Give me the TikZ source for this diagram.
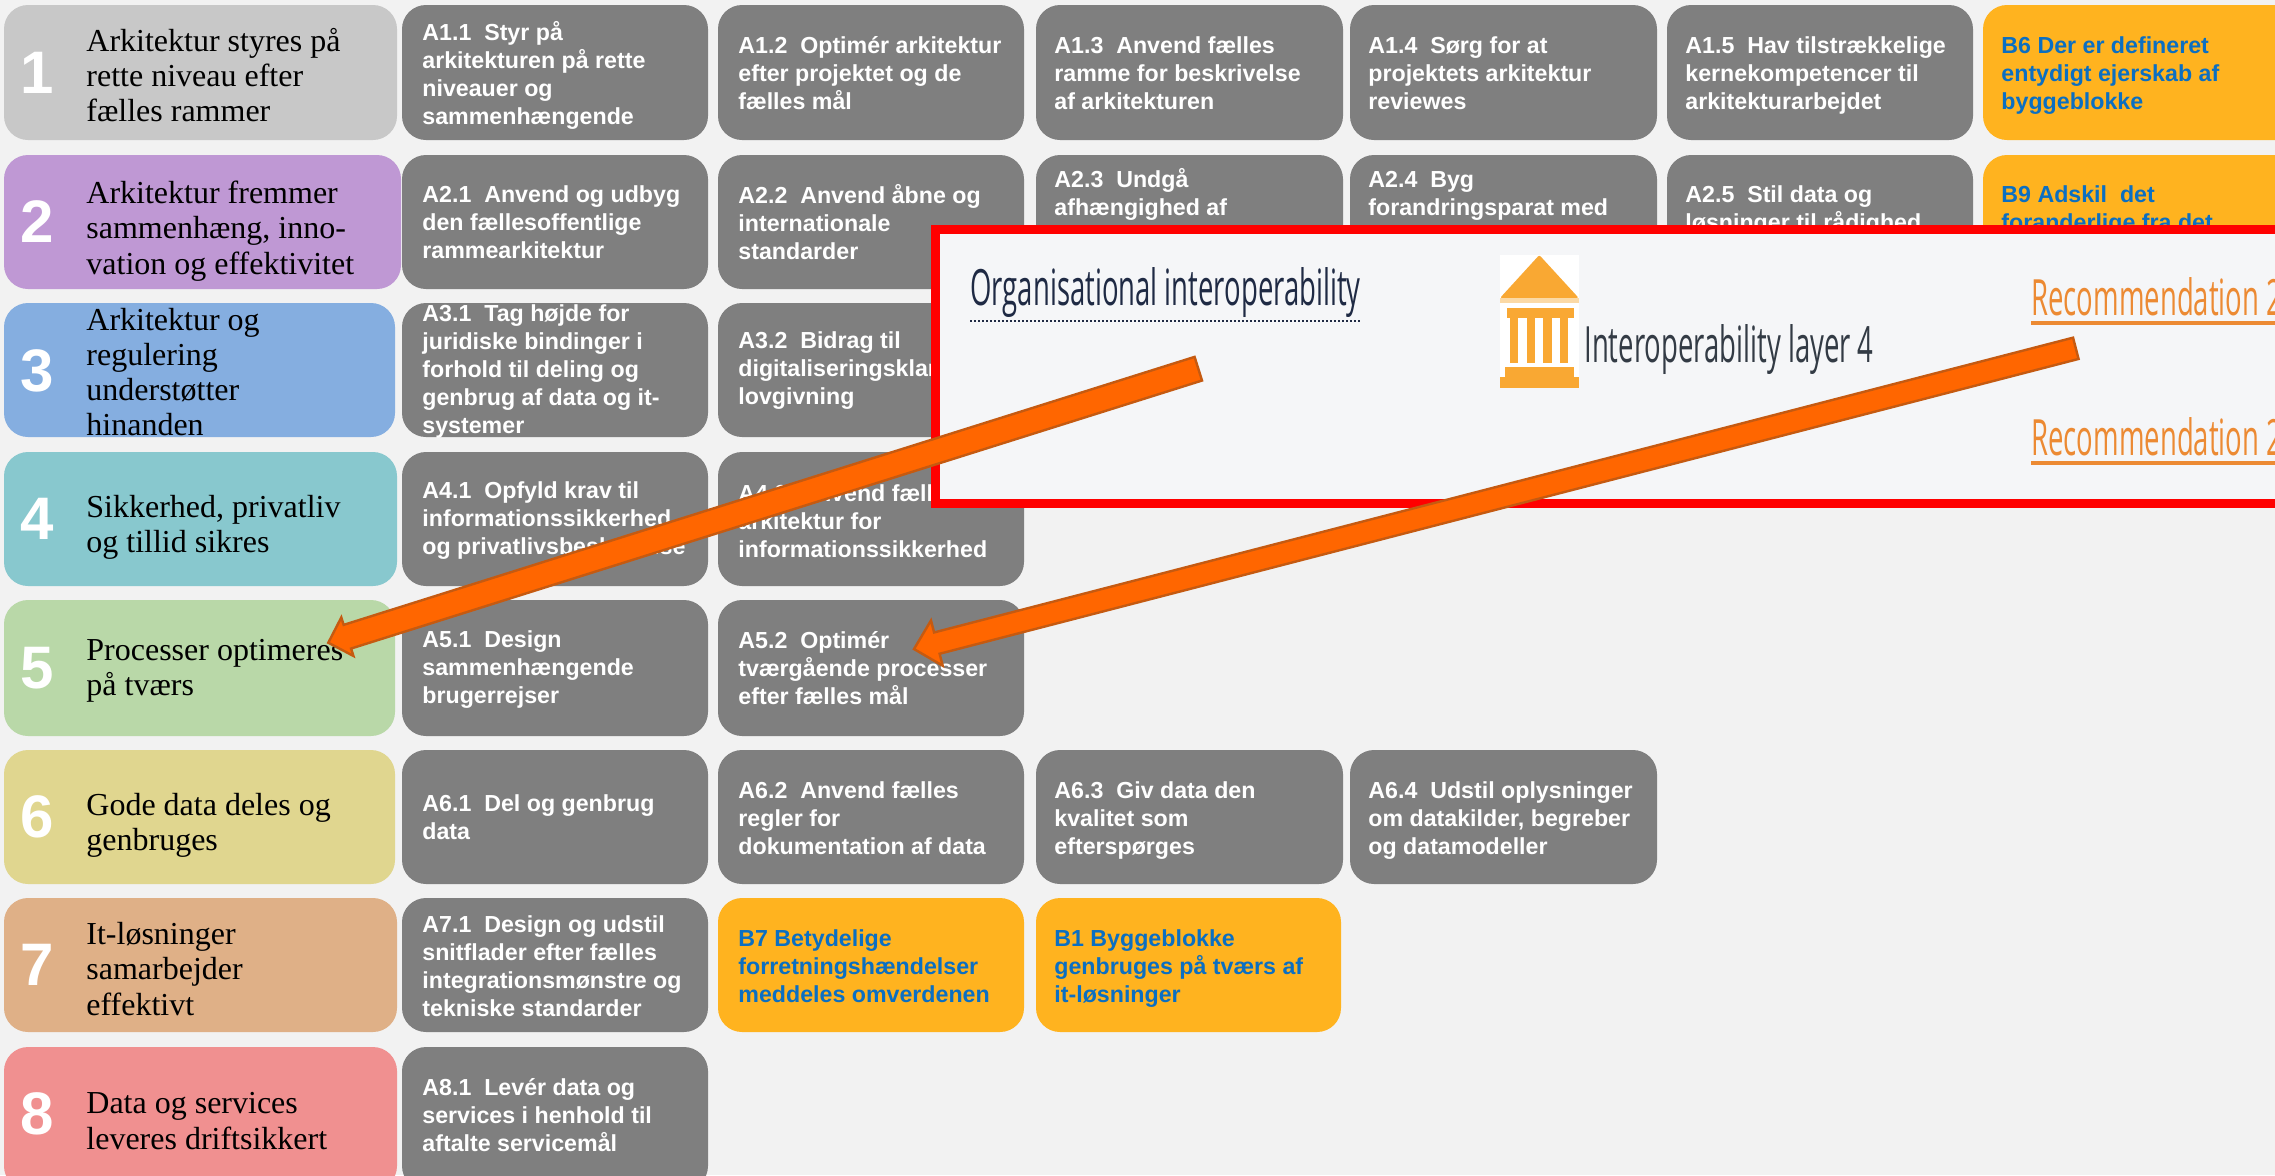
\documentclass[tikz,border=0pt]{standalone}
\usepackage{fontspec}
\usepackage{graphicx}
\usetikzlibrary{calc}
\setmainfont{Liberation Serif}
\setsansfont{Liberation Sans}
\newfontfamily\opensans{Open Sans}
\definecolor{bgc}{HTML}{F2F2F2}
\definecolor{grayc}{HTML}{7F7F7F}
\definecolor{yelc}{HTML}{FFB31F}
\definecolor{bluec}{HTML}{0B6FC2}
\definecolor{rowa}{HTML}{C8C8C8}
\definecolor{rowb}{HTML}{BF98D4}
\definecolor{rowc}{HTML}{85AEE0}
\definecolor{rowd}{HTML}{88C8CE}
\definecolor{rowe}{HTML}{B9D8A8}
\definecolor{rowf}{HTML}{E0D68F}
\definecolor{rowg}{HTML}{DFB087}
\definecolor{rowh}{HTML}{F09090}
\definecolor{arrf}{HTML}{FF6600}
\definecolor{arrd}{HTML}{C55A11}
\definecolor{panelc}{HTML}{F5F6F8}
\definecolor{iconc}{HTML}{F9A833}
\definecolor{iconl}{HTML}{FBD9A5}
\definecolor{recc}{HTML}{EC8A33}
\definecolor{navyc}{HTML}{1F2A44}
\definecolor{laydk}{HTML}{333B45}
\tikzset{
  x=0.5pt,y=-0.5pt,
  card/.style={rounded corners=12pt,draw=none},
  graytxt/.style={anchor=west,inner sep=0pt,align=left,text=white,font=\sffamily\bfseries\fontsize{11.6}{14}\selectfont},
  yeltxt/.style={anchor=west,inner sep=0pt,align=left,text=bluec,font=\sffamily\bfseries\fontsize{11.6}{14}\selectfont},
  sertxt/.style={anchor=west,inner sep=0pt,align=left,text=black,font=\rmfamily\fontsize{16}{17.6}\selectfont},
  numtxt/.style={anchor=center,inner sep=0pt,text=white,font=\sffamily\bfseries\fontsize{30}{30}\selectfont},
  blockarrow/.style={fill=arrf,draw=arrd,line width=1.2pt,line join=miter},
  paneltxt/.style={anchor=west,inner sep=0pt},
}
\newcommand{\condensed}[1]{\scalebox{0.55}[1]{\opensans\fontsize{25}{25}\selectfont #1}}
% #1 name, #2 tail, #3 tip, #4 half shaft, #5 half head, #6 head length (pt)
\newcommand{\blockarr}[6]{%
  \coordinate (#1h) at ($(#3)!#6!(#2)$);
  \draw[blockarrow] (#3)
    -- ($(#1h)!#5!90:(#2)$) -- ($(#1h)!#4!90:(#2)$)
    -- ($(#2)!#4!-90:(#3)$) -- ($(#2)!#4!90:(#3)$)
    -- ($(#1h)!#4!-90:(#2)$) -- ($(#1h)!#5!-90:(#2)$) -- cycle;
}
\begin{document}
\begin{tikzpicture}
\useasboundingbox (0,0) rectangle (2275,1175);
\clip (0,0) rectangle (2275,1175);
\fill[bgc] (0,0) rectangle (2275,1175);
% row cards
\foreach \nm/\colr/\r/\t/\b/\yc in {
 1/rowa/397/5/140/73, 2/rowb/401/155/289/222, 3/rowc/395/303/437/371, 4/rowd/397/452/586/519,
 5/rowe/395/600/736/668, 6/rowf/395/750/884/817, 7/rowg/397/898/1032/965, 8/rowh/397/1047/1190/1114}{
  \path[card,fill=\colr] (4,\t) rectangle (\r,\b);
  \node[numtxt] (n\nm) at (37,\yc) {\nm};
}
\node[sertxt] (t1) at (86,75) {Arkitektur styres på\\rette niveau efter\\fælles rammer};
\node[sertxt] (t2) at (86,231) {Arkitektur fremmer\\sammenhæng, inno-\\vation og effektivitet};
\node[sertxt] (t3) at (86,372) {Arkitektur og\\regulering\\understøtter\\hinanden};
\node[sertxt] (t4) at (86,527) {Sikkerhed, privatliv\\og tillid sikres};
\node[sertxt] (t5) at (86,671) {Processer optimeres\\på tværs};
\node[sertxt] (t6) at (86,825) {Gode data deles og\\genbruges};
\node[sertxt] (t7) at (86,969) {It-løsninger\\samarbejder\\effektivt};
\node[sertxt] (t8) at (86,1121) {Data og services\\leveres driftsikkert};
% gray cards
\foreach \l/\r/\t/\b/\c in {
 402/708/5/140/grayc, 718/1024/5/140/grayc, 1036/1343/5/140/grayc, 1350/1657/5/140/grayc, 1667/1973/5/140/grayc, 1983/2300/5/140/yelc,
 402/708/155/289/grayc, 718/1024/155/289/grayc, 1036/1343/155/289/grayc, 1350/1657/155/289/grayc, 1667/1973/155/289/grayc, 1983/2300/155/289/yelc,
 402/708/303/437/grayc, 718/1024/303/437/grayc,
 402/708/452/586/grayc, 718/1024/452/586/grayc,
 402/708/600/736/grayc, 718/1024/600/736/grayc,
 402/708/750/884/grayc, 718/1024/750/884/grayc, 1036/1343/750/884/grayc, 1350/1657/750/884/grayc,
 402/708/898/1032/grayc, 718/1024/898/1032/yelc, 1036/1341/898/1032/yelc,
 402/708/1047/1190/grayc}{
  \path[card,fill=\c] (\l,\t) rectangle (\r,\b);
}
% card text
\node[graytxt] (a11) at (422,75) {A1.1\ \ Styr på\\arkitekturen på rette\\niveauer og\\sammenhængende};
\node[graytxt] (a12) at (738,73) {A1.2\ \ Optimér arkitektur\\efter projektet og de\\fælles mål};
\node[graytxt] (a13) at (1054,73) {A1.3\ \ Anvend fælles\\ramme for beskrivelse\\af arkitekturen};
\node[graytxt] (a14) at (1368,73) {A1.4\ \ Sørg for at\\projektets arkitektur\\reviewes};
\node[graytxt] (a15) at (1685,75) {A1.5\ \ Hav tilstrækkelige\\kernekompetencer til\\arkitekturarbejdet};
\node[yeltxt] (b6) at (2001,76) {B6 Der er defineret\\entydigt ejerskab af\\byggeblokke};
\node[graytxt] (a21) at (422,222) {A2.1\ \ Anvend og udbyg\\den fællesoffentlige\\rammearkitektur};
\node[graytxt] (a22) at (738,222) {A2.2\ \ Anvend åbne og\\internationale\\standarder};
\node[graytxt] (a23) at (1054,194) {A2.3\ \ Undgå\\afhængighed af};
\node[graytxt] (a24) at (1368,196) {A2.4\ \ Byg\\forandringsparat med};
\node[graytxt] (a25) at (1685,211) {A2.5\ \ Stil data og\\løsninger til rådighed};
\node[yeltxt] (b9) at (2001,211) {B9 Adskil\ \ det\\foranderlige fra det};
\node[graytxt] (a31) at (422,371) {A3.1\ \ Tag højde for\\juridiske bindinger i\\forhold til deling og\\genbrug af data og it-\\systemer};
\node[graytxt] (a32) at (738,371) {A3.2\ \ Bidrag til\\digitaliseringsklar\\lovgivning};
\node[graytxt] (a41) at (422,521) {A4.1\ \ Opfyld krav til\\informationssikkerhed\\og privatlivsbeskyttelse};
\node[graytxt] (a42) at (738,521) {A4.2\ \ Anvend fælles\\arkitektur for\\informationssikkerhed};
\node[graytxt] (a51) at (422,670) {A5.1\ \ Design\\sammenhængende\\brugerrejser};
\node[graytxt] (a52) at (738,668) {A5.2\ \ Optimér\\tværgående processer\\efter fælles mål};
\node[graytxt] (a61) at (422,817) {A6.1\ \ Del og genbrug\\data};
\node[graytxt] (a62) at (738,818) {A6.2\ \ Anvend fælles\\regler for\\dokumentation af data};
\node[graytxt] (a63) at (1054,821) {A6.3\ \ Giv data den\\kvalitet som\\efterspørges};
\node[graytxt] (a64) at (1368,821) {A6.4\ \ Udstil oplysninger\\om datakilder, begreber\\og datamodeller};
\node[graytxt] (a71) at (422,966) {A7.1\ \ Design og udstil\\snitflader efter fælles\\integrationsmønstre og\\tekniske standarder};
\node[yeltxt] (b7) at (738,966) {B7 Betydelige\\forretningshændelser\\meddeles omverdenen};
\node[yeltxt] (b1) at (1054,969) {B1 Byggeblokke\\genbruges på tværs af\\it-løsninger};
\node[graytxt] (a81) at (422,1115) {A8.1\ \ Levér data og\\services i henhold til\\aftalte servicemål};
% panel
\path[fill=panelc,draw=red,line width=4.5pt] (935.5,229.5) rectangle (2320,503.5);
\node[paneltxt,text=navyc] (org) at (970,292) {\condensed{Organisational interoperability}};
\draw[navyc,line width=1pt,densely dotted] (org.west|-0,321) -- (1360,321);
% icon
\fill[white] (1500,255) rectangle (1578.7,388);
\fill[iconc,rounded corners=1pt] (1539.3,255) -- (1578.7,298) -- (1500,298) -- cycle;
\fill[iconl] (1500,298) rectangle (1578.7,303);
\fill[iconc] (1506.7,307.7) rectangle (1574,317.7);
\foreach \cx in {1510,1526.7,1543.3,1560}{\fill[iconc] (\cx,317.7) rectangle (\cx+8.3,363.3);}
\fill[iconc] (1505,366.7) rectangle (1574,376.7);
\fill[iconc] (1500,376.7) rectangle (1578.7,388);
\node[paneltxt,text=laydk] (lay) at (1584,349) {\condensed{Interoperability layer 4}};
\node[paneltxt,text=recc] (rec1) at (2031,297) {\condensed{Recommendation 2}};
\node[paneltxt,text=recc] (rec2) at (2031,437) {\condensed{Recommendation 2}};
\draw[recc,line width=2pt] (2031,322.5) -- (2275,322.5);
\draw[recc,line width=2pt] (2031,463) -- (2275,463);
% arrows
\coordinate (tailA) at (1198.3,368.7);
\coordinate (tipA) at (328.3,642.7);
\coordinate (tailB) at (2075.8,348.3);
\coordinate (tipB) at (914,649);
\blockarr{ara}{tailA}{tipA}{6.2pt}{10.1pt}{10pt}
\blockarr{arb}{tailB}{tipB}{5.5pt}{11.7pt}{11.8pt}
\end{tikzpicture}
\end{document}
